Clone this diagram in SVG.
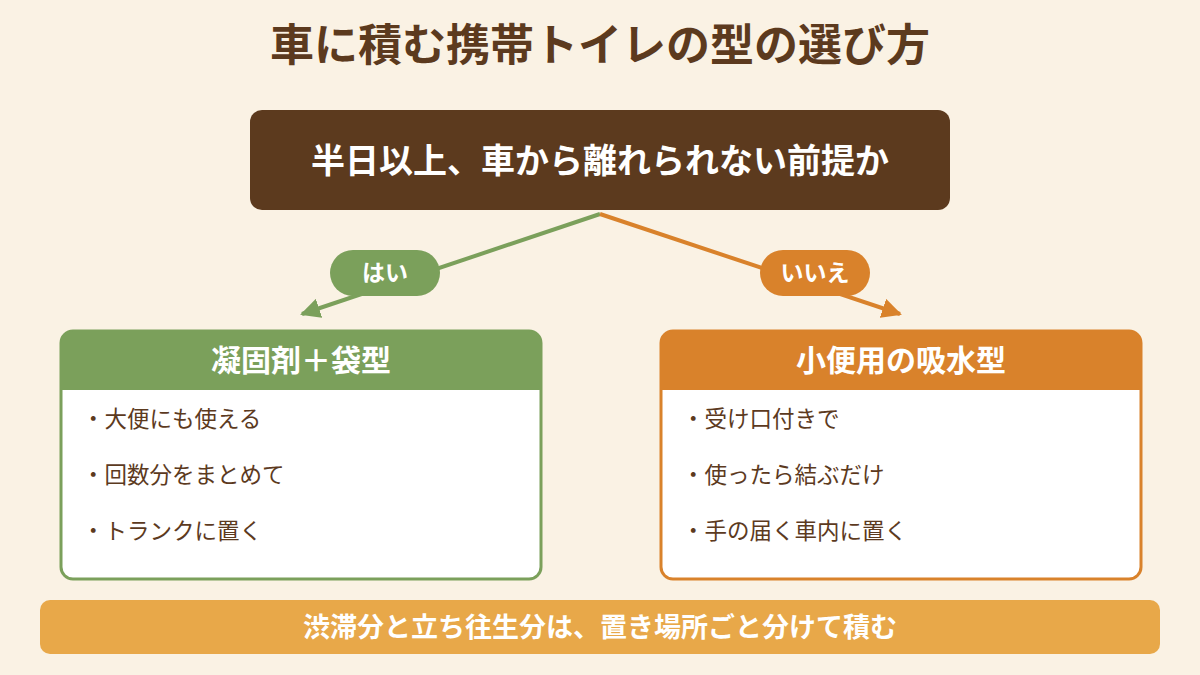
<svg xmlns="http://www.w3.org/2000/svg" width="1200" height="675" viewBox="0 0 1200 675">
<style>
text{font-family:"Noto Sans CJK JP","Noto Sans",sans-serif}
.t{fill:#5C3A1E;font-weight:700}
.w{fill:#fff;font-weight:700}
.li{fill:#5C3A1E;font-size:22.5px}
</style>
<defs>
<marker id="ag" viewBox="0 0 10 10" refX="9" refY="5" markerWidth="5" markerHeight="5" orient="auto"><path d="M0,0L10,5L0,10z" fill="#7BA05B"/></marker>
<marker id="ao" viewBox="0 0 10 10" refX="9" refY="5" markerWidth="5" markerHeight="5" orient="auto"><path d="M0,0L10,5L0,10z" fill="#D9822B"/></marker>
</defs>
<rect width="1200" height="675" fill="#FAF2E4"/>
<text class="t" x="600" y="61" font-size="44" text-anchor="middle">車に積む携帯トイレの型の選び方</text>
<g id="root"><rect x="250" y="110" width="700" height="100" rx="12" fill="#5C3A1E"/>
<text class="w" x="600" y="173" font-size="34" text-anchor="middle">半日以上、車から離れられない前提か</text></g>
<g id="connectors">
<line x1="600" y1="214" x2="302" y2="314" stroke="#7BA05B" stroke-width="4" marker-end="url(#ag)"/>
<line x1="600" y1="214" x2="900" y2="314" stroke="#D9822B" stroke-width="4" marker-end="url(#ao)"/>
<rect x="330" y="250" width="110" height="46" rx="23" fill="#7BA05B"/>
<text class="w" x="385" y="281" font-size="23" text-anchor="middle">はい</text>
<rect x="760" y="250" width="110" height="46" rx="23" fill="#D9822B"/>
<text class="w" x="815" y="281" font-size="23" text-anchor="middle">いいえ</text>
</g>
<g id="left">
<rect x="61" y="331" width="480" height="248" rx="12" fill="#fff" stroke="#7BA05B" stroke-width="3"/>
<path d="M61,390V343a12,12 0 0 1 12,-12H529a12,12 0 0 1 12,12V390z" fill="#7BA05B"/>
<text class="w" x="301" y="371" font-size="30" text-anchor="middle">凝固剤＋袋型</text>
<text class="li" x="82" y="427">・大便にも使える</text>
<text class="li" x="82" y="483">・回数分をまとめて</text>
<text class="li" x="82" y="539">・トランクに置く</text>
</g>
<g id="right">
<rect x="661" y="331" width="480" height="248" rx="12" fill="#fff" stroke="#D9822B" stroke-width="3"/>
<path d="M661,390V343a12,12 0 0 1 12,-12H1129a12,12 0 0 1 12,12V390z" fill="#D9822B"/>
<text class="w" x="901" y="371" font-size="30" text-anchor="middle">小便用の吸水型</text>
<text class="li" x="682" y="427">・受け口付きで</text>
<text class="li" x="682" y="483">・使ったら結ぶだけ</text>
<text class="li" x="682" y="539">・手の届く車内に置く</text>
</g>
<g id="note"><rect x="40" y="600" width="1120" height="54" rx="10" fill="#E8A849"/>
<text class="w" x="600" y="637" font-size="27" text-anchor="middle">渋滞分と立ち往生分は、置き場所ごと分けて積む</text></g>
</svg>
